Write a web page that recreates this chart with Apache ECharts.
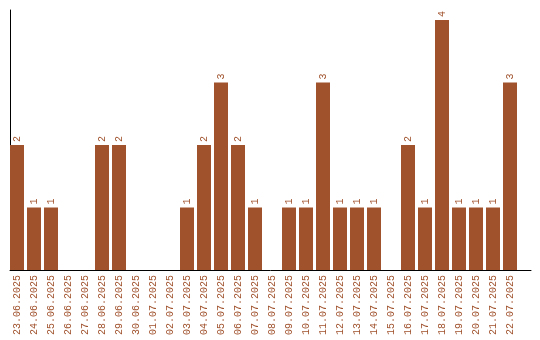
<!DOCTYPE html>
<html><head><meta charset="utf-8">
<script src="https://cdn.jsdelivr.net/npm/echarts@6/dist/echarts.min.js"></script>
<style>html,body{margin:0;padding:0;background:#fff}#c{width:540px;height:340px}</style>
</head><body><div id="c"></div>
<script>
const categories = ["23.06.2025","24.06.2025","25.06.2025","26.06.2025","27.06.2025","28.06.2025","29.06.2025","30.06.2025","01.07.2025","02.07.2025","03.07.2025","04.07.2025","05.07.2025","06.07.2025","07.07.2025","08.07.2025","09.07.2025","10.07.2025","11.07.2025","12.07.2025","13.07.2025","14.07.2025","15.07.2025","16.07.2025","17.07.2025","18.07.2025","19.07.2025","20.07.2025","21.07.2025","22.07.2025"];
const values = [2,1,1,0,0,2,2,0,0,0,1,2,3,2,1,0,1,1,3,1,1,1,0,2,1,4,1,1,1,3];

const color = '#A0522D';
const font = 'Liberation Mono';
const chart = echarts.init(document.getElementById('c'), null, {renderer:'canvas'});
chart.setOption({
  animation:false,
  grid:[
    {left:8.5, width:510, top:10, bottom:70},
    {left:10, right:9, top:10, bottom:70}
  ],
  xAxis:[
    {type:'category', gridIndex:0, data:categories,
     axisLine:{show:false}, axisTick:{show:false},
     axisLabel:{rotate:90, interval:0, color:color, fontFamily:font, fontSize:10, margin:5}},
    {type:'value', gridIndex:1, min:0, max:1, axisLabel:{show:false}, axisTick:{show:false}, splitLine:{show:false},
     axisLine:{show:true, onZero:false, lineStyle:{color:'#000', width:1}}}
  ],
  yAxis:[
    {type:'value', gridIndex:0, min:0, max:4.16, show:false},
    {type:'value', gridIndex:1, min:0, max:1, axisLabel:{show:false}, axisTick:{show:false}, splitLine:{show:false},
     axisLine:{show:true, onZero:false, lineStyle:{color:'#000', width:1}}}
  ],
  series:[{
    type:'bar', xAxisIndex:0, yAxisIndex:0, data:values,
    barWidth:14,
    itemStyle:{color:color},
    label:{show:true, position:'top', rotate:90, align:'left', verticalAlign:'middle', distance:3,
      color:color, fontFamily:font, fontSize:10,
      formatter:p=>p.value>0?String(p.value):''}
  }]
});
</script></body></html>
